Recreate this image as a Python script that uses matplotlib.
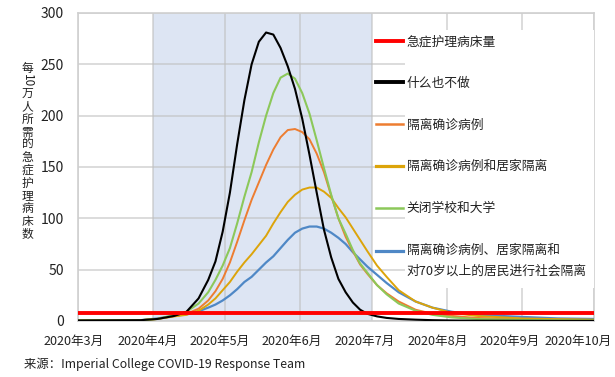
import numpy as np
import matplotlib
matplotlib.use('Agg')
import matplotlib.pyplot as plt
from matplotlib.legend_handler import HandlerLine2D
from matplotlib.patches import Rectangle
import matplotlib.transforms as mtransforms

plt.rcParams['font.family'] = ['Noto Sans CJK SC', 'DejaVu Sans']

# ---------------- data ----------------
start_date = np.datetime64('2020-03-01')
days = [0, 26, 33, 40, 45, 50, 54, 57, 60, 63, 66, 69, 72, 75, 78, 81, 84, 87, 90,
        93, 96, 99, 102, 105, 108, 111, 114, 117, 120, 124, 128, 133, 140, 147,
        155, 165, 184, 199, 214]

icu_capacity = 8

do_nothing = [0.5, 0.8, 2, 5, 9, 22, 40, 58, 87, 125, 172, 215, 250, 272, 281, 279,
              266, 248, 226, 197, 162, 125, 89, 62, 41, 28, 18, 11, 7, 4.5, 3, 2,
              1.3, 0.8, 0.5, 0.3, 0.2, 0.1, 0.1]

case_isolation = [0.5, 0.8, 2, 5, 7, 12, 20, 29, 41, 57, 77, 98, 118, 135, 152, 167,
                  179, 186, 187, 184, 177, 163, 145, 122, 100, 82, 68, 55, 46, 35,
                  27, 19, 11, 7, 5, 3, 2, 1.3, 1]

case_home_isolation = [0.5, 0.8, 2, 4.5, 6, 10, 16, 22, 30, 38, 48, 57, 65, 74, 83,
                       95, 106, 116, 123, 128, 130, 130, 126, 120, 110, 101, 90, 79,
                       68, 54, 43, 30, 19, 13, 8, 5, 2.5, 1.8, 1.3]

close_schools = [0.5, 0.8, 2, 6, 9, 17, 28, 40, 54, 71, 95, 121, 145, 174, 200, 222,
                 237, 241, 236, 222, 202, 176, 149, 123, 100, 85, 69, 56, 47, 35,
                 26, 17, 10, 6, 3.5, 2, 1, 0.7, 0.5]

combined_70plus = [0.5, 0.8, 2.5, 5, 6.5, 9.5, 13, 16, 20, 25, 31, 38, 43, 50, 57,
                   63, 71, 79, 86, 90, 92, 92, 90, 86, 81, 75, 67, 60, 53, 45, 37,
                   28, 19, 13, 9, 6, 4, 2.5, 2]

series_labels = ['急症护理病床量', '什么也不做', '隔离确诊病例', '隔离确诊病例和居家隔离',
                 '关闭学校和大学', '隔离确诊病例、居家隔离和\n对70岁以上的居民进行社会隔离']
month_labels = ['2020年3月', '2020年4月', '2020年5月', '2020年6月', '2020年7月',
                '2020年8月', '2020年9月', '2020年10月']
shade_start = np.datetime64('2020-04-01')
shade_end = np.datetime64('2020-07-01')
y_ticks = [0, 50, 100, 150, 200, 250, 300]
y_label = '每10万人所需的急症护理病床数'
source_text = '来源：Imperial College COVID-19 Response Team'

# ---------------- figure ----------------
W, H = 615, 377
fig = plt.figure(figsize=(W / 100, H / 100), dpi=100)
ax = fig.add_axes([78 / W, 1 - 321 / H, (594 - 78) / W, (321 - 13) / H])

dates = start_date + np.array(days).astype('timedelta64[D]')
month_ticks = np.arange(np.datetime64('2020-03'), np.datetime64('2020-11'),
                        np.timedelta64(1, 'M')).astype('datetime64[D]')

ax.axvspan(shade_start, shade_end, color='#dde5f3', zorder=0, lw=0)

ax.set_xlim(month_ticks[0], month_ticks[-1])
ax.set_ylim(0, 300)
ax.set_xticks(month_ticks)
ax.set_xticklabels(month_labels, fontsize=9.1, color='#222222')
ax.set_yticks(y_ticks)
ax.set_yticklabels([str(v) for v in y_ticks], fontsize=10, color='#222222')
ax.tick_params(axis='both', length=0)
ax.tick_params(axis='y', pad=10)
ax.tick_params(axis='x', pad=10)
ax.grid(True, color='#bfbfbf', alpha=0.65, lw=1.2, zorder=1)
ax.set_axisbelow(True)
for s in ax.spines.values():
    s.set_color('#d0d0d0')
    s.set_linewidth(1.2)

# Excel spaces the month labels slightly left of the gridlines
label_shift_px = [-4, -5.5, -5.5, -8, -7, -9.5, -12, -16]
for lbl, dx in zip(ax.get_xticklabels(), label_shift_px):
    lbl.set_transform(lbl.get_transform() +
                      mtransforms.ScaledTranslation(dx / 100, 0, fig.dpi_scale_trans))

l_red, = ax.plot([month_ticks[0], month_ticks[-1]], [icu_capacity, icu_capacity],
                 color='#ff0000', lw=2.8, zorder=6, label=series_labels[0])
l_blk, = ax.plot(dates, do_nothing, color='#000000', lw=1.5, zorder=5, label=series_labels[1])
l_org, = ax.plot(dates, case_isolation, color='#ed7d31', lw=1.4, zorder=4, label=series_labels[2])
l_gld, = ax.plot(dates, case_home_isolation, color='#dca40a', lw=1.4, zorder=4, label=series_labels[3])
l_grn, = ax.plot(dates, close_schools, color='#8cc85a', lw=1.5, zorder=4, label=series_labels[4])
l_blu, = ax.plot(dates, combined_70plus, color='#4f88c6', lw=1.6, zorder=3, label=series_labels[5])


class TopHandler(HandlerLine2D):
    def create_artists(self, legend, orig_handle, xdescent, ydescent, width,
                       height, fontsize, trans):
        arts = super().create_artists(legend, orig_handle, xdescent, ydescent,
                                      width, height, fontsize, trans)
        for a in arts:
            a.set_ydata(np.asarray(a.get_ydata()) + 7.6)
        return arts


leg = ax.legend(handles=[l_red, l_blk, l_org, l_gld, l_grn, l_blu],
                loc='upper left', bbox_to_anchor=(371 / W, 1 - 30 / H),
                bbox_transform=fig.transFigure, borderaxespad=0,
                fontsize=9.2, frameon=False, handlelength=2.1,
                handletextpad=0.3, labelspacing=2.25, borderpad=0.4,
                handler_map={l_blu: TopHandler()})
leg.set_zorder(10)
for t in leg.get_texts():
    t.set_color('#222222')
    t.set_linespacing(1.75)
for h, w in zip(leg.get_lines(), [2.8, 2.8, 1.8, 2.3, 1.8, 2.3]):
    h.set_linewidth(w)

# white panel behind the legend's text column (handle column stays see-through)
fig.canvas.draw()
renderer = fig.canvas.get_renderer()
lb = leg.get_window_extent(renderer)
tb = mtransforms.Bbox.union([t.get_window_extent(renderer) for t in leg.get_texts()])
panel = Rectangle((tb.x0 - 2, lb.y0 - 6), lb.x1 - tb.x0 + 4, lb.y1 - lb.y0 + 6,
                  transform=mtransforms.IdentityTransform(), facecolor='white',
                  edgecolor='none', zorder=9)
ax.add_patch(panel)

# vertical (stacked) y label
cx = 27.5
y0 = 68
step = 12.8
units = ['每', '10', '万', '人', '所', '需', '的', '急', '症', '护', '理', '病', '床', '数']
for i, u in enumerate(units):
    fig.text(cx / W, 1 - (y0 + i * step) / H, u, ha='center', va='center',
             fontsize=8.5, color='#222222', rotation=-90 if u.isdigit() else 0)

fig.text(24 / W, 1 - 364 / H, source_text, fontsize=8.9, va='center', color='#222222')

fig.savefig('out.png', dpi=100)
